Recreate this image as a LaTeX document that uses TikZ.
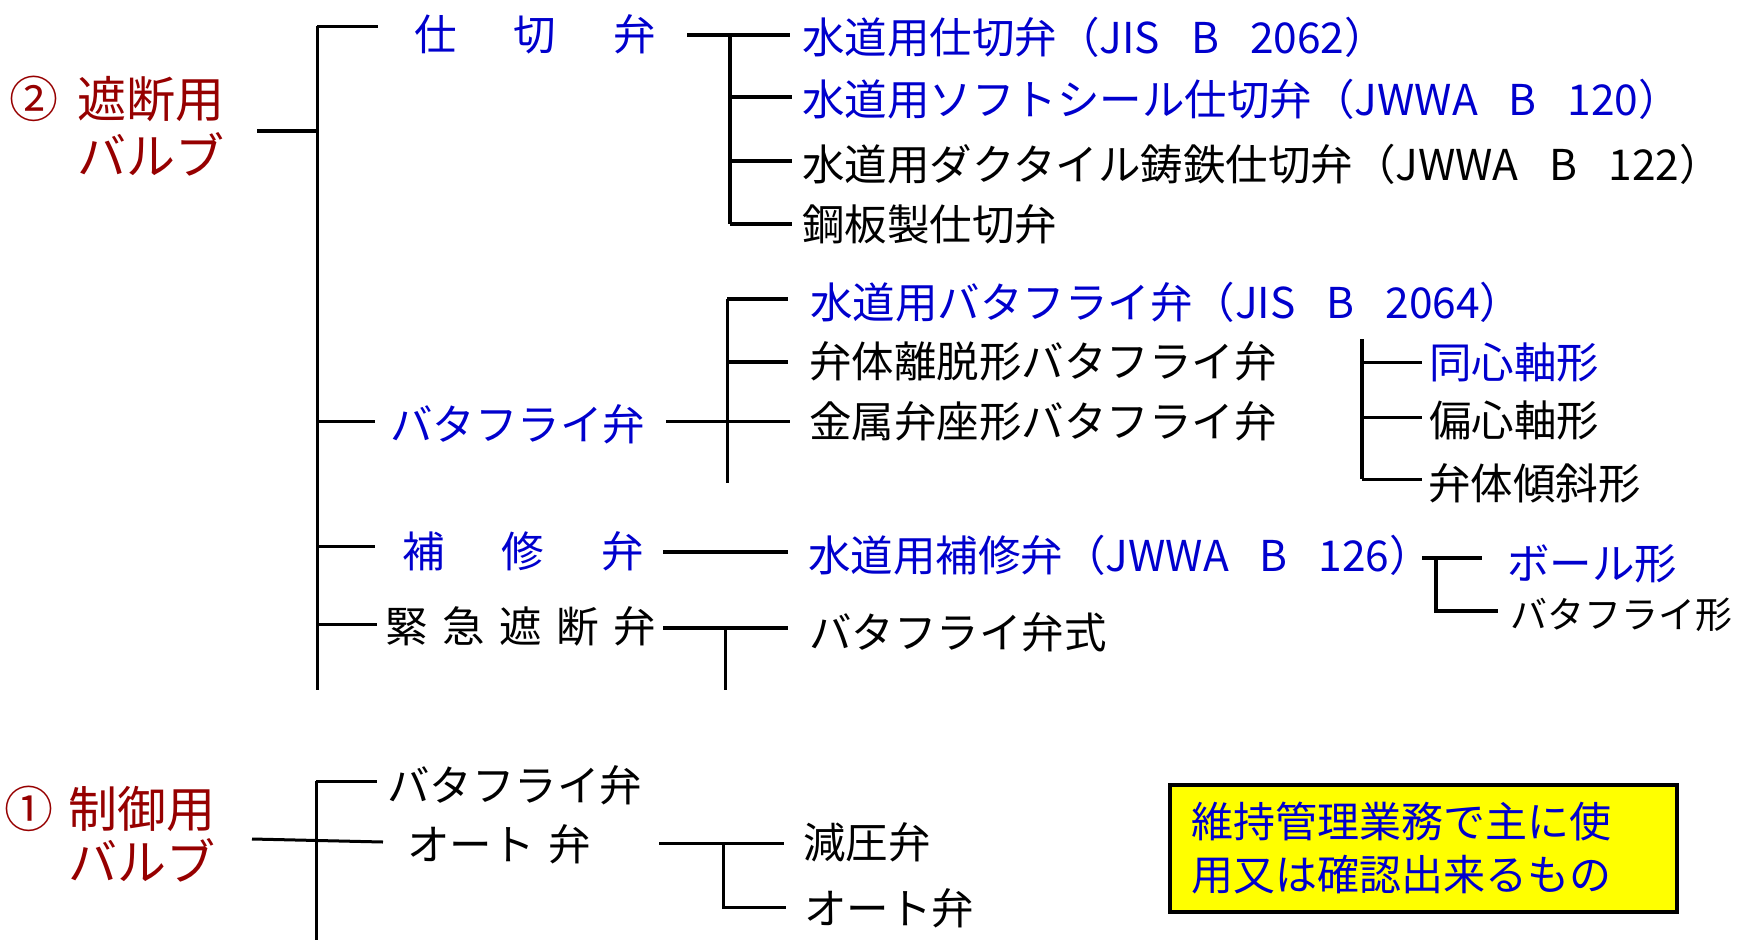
\documentclass[tikz,border=0pt]{standalone}
\usepackage{fontspec}
\setmainfont{Noto Sans CJK JP}
\definecolor{vblue}{RGB}{0,0,205}
\definecolor{vred}{RGB}{150,0,0}
\definecolor{vyellow}{RGB}{255,255,0}
\newcommand{\sgap}{\hspace{31pt}}
\begin{document}
\begin{tikzpicture}[x=1pt,y=-1pt,
  ln/.style={line width=3pt},
  lnb/.style={line width=4pt},
  t/.style={font=\fontsize{42.5}{50}\selectfont, inner sep=0pt, anchor=west, text height=35pt, text depth=3pt},
  tb/.style={t, text=vblue},
  ts/.style={font=\fontsize{37}{44}\selectfont, inner sep=0pt, anchor=west, text height=31pt, text depth=3pt},
  tr/.style={font=\fontsize{49}{57}\selectfont, inner sep=0pt, anchor=west, text height=41pt, text depth=3pt, text=vred},
  note/.style={draw=black, line width=4pt, fill=vyellow, text=vblue, anchor=north west,
    minimum width=507pt, minimum height=127pt, text width=465pt, inner xsep=21pt, align=left,
    font=\fontsize{42}{53}\selectfont},
]
\useasboundingbox (0,0) rectangle (1738,940);

% ---------- root labels ----------
\node[tr] (c2) at (9,98) {②};
\node[tr] (r2a) at (77,98) {遮断用};
\node[tr] (r2b) at (77,155) {バルブ};
\node[tr] (c1) at (4,808) {①};
\node[tr] (r1a) at (68,808) {制御用};
\node[tr] (r1b) at (68,861) {バルブ};

% ---------- level 1 labels (遮断用) ----------
\node[tb] (sk) at (414,34) {仕\hspace{57pt}切\hspace{57pt}弁};
\node[tb] (bf) at (390,424) {バタフライ弁};
\node[tb] (hs) at (402,551) {補\hspace{57pt}修\hspace{57pt}弁};
\node[t]  (ks) at (385,626) {緊\hspace{14.5pt}急\hspace{14.5pt}遮\hspace{14.5pt}断\hspace{14.5pt}弁};

% ---------- level 2 labels ----------
\node[tb] (g1) at (802,37) {水道用仕切弁（JIS\sgap B\sgap 2062）};
\node[tb] (g2) at (802,99) {水道用ソフトシール仕切弁（JWWA\sgap B\sgap 120）};
\node[t]  (g3) at (802,164) {水道用ダクタイル鋳鉄仕切弁（JWWA\sgap B\sgap 122）};
\node[t]  (g4) at (802,224) {鋼板製仕切弁};

\node[tb] (b1) at (810,302) {水道用バタフライ弁（JIS\sgap B\sgap 2064）};
\node[t]  (b2) at (809,361) {弁体離脱形バタフライ弁};
\node[t]  (b3) at (809,421) {金属弁座形バタフライ弁};

\node[tb] (s1) at (1429,362) {同心軸形};
\node[t]  (s2) at (1429,420) {偏心軸形};
\node[t]  (s3) at (1428,483) {弁体傾斜形};

\node[tb] (h1) at (808,555) {水道用補修弁（JWWA\sgap B\sgap 126）};
\node[tb] (h2) at (1507,563) {ボール形};
\node[ts] (h3) at (1510,614) {バタフライ形};

\node[t]  (k1) at (809,632) {バタフライ弁式};

% ---------- 制御用 tree labels ----------
\node[t]  (cb) at (387,785) {バタフライ弁};
\node[t]  (ca) at (407,844) {オート\hspace{14pt}弁};
\node[t]  (cg) at (803,842) {減圧弁};
\node[t]  (co) at (804,908) {オート弁};

% ---------- note ----------
\node[note] (nt) at (1168,783) {維持管理業務で主に使\\用又は確認出来るもの};

% ---------- connectors: 遮断用 ----------
\coordinate (A0) at (257,131);
\coordinate (A1) at (317,131);
\coordinate (At) at (317,26);
\coordinate (Ab) at (317,690);
\draw[lnb] (A0) -- (A1);
\draw[ln] (At) -- (Ab);
\coordinate (Tsk) at (378,26);
\coordinate (Tbf) at (375,421);
\coordinate (Ths) at (375,546);
\coordinate (Tks) at (377,624);
\draw[ln] (At) -- (Tsk);
\draw[ln] (At |- Tbf) -- (Tbf);
\draw[ln] (At |- Ths) -- (Ths);
\draw[ln] (At |- Tks) -- (Tks);

% 仕切弁 subtree
\coordinate (G0) at (687,35);
\coordinate (G1) at (790,35);
\coordinate (Gv) at (730,35);
\coordinate (Gb) at (730,224);
\draw[lnb] (G0) -- (G1);
\draw[lnb] (Gv) -- (Gb);
\coordinate (G2) at (792,97);
\coordinate (G3) at (792,161);
\coordinate (G4) at (792,224);
\draw[lnb] (Gv |- G2) -- (G2);
\draw[lnb] (Gv |- G3) -- (G3);
\draw[lnb] (Gb) -- (G4);

% バタフライ弁 subtree
\coordinate (B0) at (666,421);
\coordinate (B3) at (790,421);
\coordinate (Bt) at (727,299);
\coordinate (Bb) at (727,483);
\coordinate (B1) at (788,299);
\coordinate (B2) at (788,362);
\draw[ln] (B0) -- (B3);
\draw[ln] (Bt) -- (Bb);
\draw[lnb] (Bt) -- (B1);
\draw[lnb] (Bt |- B2) -- (B2);

% 軸形 subtree
\coordinate (St) at (1362,339);
\coordinate (Sb) at (1362,479);
\coordinate (S1) at (1422,362);
\coordinate (S2) at (1422,417);
\coordinate (S3) at (1422,479);
\draw[lnb] (St) -- (Sb);
\draw[ln] (St |- S1) -- (S1);
\draw[ln] (St |- S2) -- (S2);
\draw[ln] (Sb) -- (S3);

% 補修弁 subtree
\coordinate (H0) at (663,552);
\coordinate (H1) at (788,552);
\draw[lnb] (H0) -- (H1);
\coordinate (P0) at (1422,558);
\coordinate (P1) at (1482,558);
\coordinate (Pv) at (1436,558);
\coordinate (Pb) at (1436,611);
\coordinate (P2) at (1498,611);
\draw[lnb] (P0) -- (P1);
\draw[lnb] (Pv) -- (Pb) -- (P2);

% 緊急遮断弁 subtree
\coordinate (K0) at (663,628);
\coordinate (K1) at (788,628);
\coordinate (Kv) at (725,628);
\coordinate (Kb) at (725,690);
\draw[lnb] (K0) -- (K1);
\draw[ln] (Kv) -- (Kb);

% ---------- connectors: 制御用 ----------
\coordinate (C0) at (252,839);
\coordinate (C1) at (383,842);
\coordinate (Ct) at (316,781);
\coordinate (Cb) at (316,940);
\coordinate (C2) at (377,781);
\draw[ln] (C0) -- (C1);
\draw[ln] (Ct) -- (Cb);
\draw[ln] (Ct) -- (C2);

\coordinate (D0) at (659,843);
\coordinate (D1) at (784,843);
\coordinate (Dv) at (723,843);
\coordinate (Db) at (723,907);
\coordinate (D2) at (786,907);
\draw[ln] (D0) -- (D1);
\draw[ln] (Dv) -- (Db) -- (D2);
\end{tikzpicture}
\end{document}
